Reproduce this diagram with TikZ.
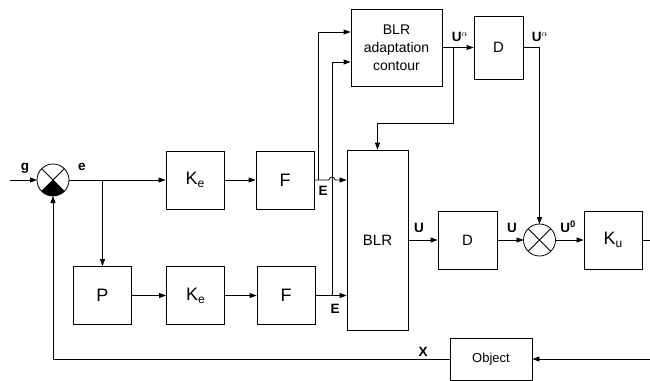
\documentclass[tikz,border=0pt]{standalone}
\usepackage{fontspec}
\setmainfont{Liberation Sans}
\usetikzlibrary{arrows.meta}
\begin{document}
\begin{tikzpicture}[x=1pt,y=1pt,
  blk/.style={draw, line width=0.8pt, minimum width=58pt, minimum height=58pt, inner sep=0pt, font=\fontsize{18}{20}\selectfont},
  mid/.style={font=\fontsize{15}{18}\selectfont},
  lbl/.style={font=\bfseries\fontsize{13.5}{14}\selectfont, inner sep=0pt},
  sumc/.style={draw, circle, line width=0.8pt, minimum size=32pt, inner sep=0pt, outer sep=0pt},
  sig/.style={line width=0.8pt, -{Triangle[length=7pt,width=5pt]}},
  wire/.style={line width=0.8pt}]
\useasboundingbox (0,0) rectangle (650,-380);
% blocks
\node[blk] (ke1) at (195,-180) {K{\fontsize{12}{12}\selectfont\raisebox{-3pt}{e}}};
\node[blk] (f1) at (285,-180) {F};
\node[blk] (p) at (102.5,-295.5) {P};
\node[blk] (ke2) at (195.5,-295.5) {K{\fontsize{12}{12}\selectfont\raisebox{-3pt}{e}}};
\node[blk] (f2) at (286,-295.5) {F};
\node[blk, mid, minimum width=61pt, minimum height=180pt] (blr) at (377.5,-240) {BLR};
\node[blk, font=\fontsize{14}{18}\selectfont, align=center, minimum width=91pt, minimum height=77pt] (adapt) at (396.5,-47.5) {BLR\\adaptation\\contour};
\node[blk, mid, minimum width=49pt, minimum height=63pt] (d1) at (498.5,-47.5) {D};
\node[blk, mid, minimum width=59pt, minimum height=58pt] (d2) at (467.5,-240) {D};
\node[blk] (ku) at (613,-240) {K{\fontsize{12}{12}\selectfont\raisebox{-3pt}{u}}};
\node[blk, font=\fontsize{13}{15}\selectfont, minimum width=82pt, minimum height=42pt] (obj) at (491,-359) {Object};
% summing junctions
\node[sumc] (s1) at (53,-180) {};
\fill (s1.center) -- ++(225:16) arc[start angle=225, end angle=315, radius=16] -- cycle;
\draw[wire] (s1.45) -- (s1.225) (s1.135) -- (s1.-45);
\node[sumc] (s2) at (539.5,-240) {};
\draw[wire] (s2.45) -- (s2.225) (s2.135) -- (s2.-45);
% coordinates
\coordinate (gin) at (10,-180);
\coordinate (br1) at (102.5,-180);
\coordinate (t1) at (318,-180);
\coordinate (t2) at (332,-295.5);
\coordinate (ua) at (453,-47.5);
\coordinate (out) at (650,-240);
\coordinate (xin) at (650,-359);
% connectors
\draw[sig] (gin) -- (s1.west);
\draw[sig] (s1.east) -- (ke1.west);
\draw[sig] (br1) -- (br1 |- p.north);
\draw[sig] (ke1) -- (f1);
\draw[sig] (p) -- (ke2);
\draw[sig] (ke2) -- (f2);
\draw[sig] (f1.east) -- (329,-180) arc[start angle=180, end angle=0, radius=3] -- (f1.east -| blr.west);
\draw[sig] (f2.east) -- (f2.east -| blr.west);
\draw[sig] (t1) |- ([yshift=15.5pt]adapt.west);
\draw[sig] (t2) |- ([yshift=-14.5pt]adapt.west);
\draw[sig] (adapt.east) -- (d1.west);
\draw[sig] (ua) -- (453,-123) -| (blr.north);
\draw[sig] (d1.east) -| (s2.north);
\draw[sig] (blr.east |- d2.west) -- (d2.west);
\draw[sig] (d2.east) -- (s2.west);
\draw[sig] (s2.east) -- (ku.west);
\draw[wire] (ku.east) -- (out);
\draw[sig] (xin) -- (obj.east);
\draw[sig] (obj.west) -| (s1.south);
% labels
\node[lbl] at (25,-168) {g};
\node[lbl] at (82,-167) {e};
\node[lbl] at (323,-191) {E};
\node[lbl] at (335,-309) {E};
\node[lbl] at (460,-37) {U$^{\alpha}$};
\node[lbl] at (540,-37) {U$^{\alpha}$};
\node[lbl] at (419,-228) {U};
\node[lbl] at (512,-228) {U};
\node[lbl] at (568,-227) {U$^{\mathbf{0}}$};
\node[lbl] at (423,-352) {X};
\end{tikzpicture}
\end{document}
